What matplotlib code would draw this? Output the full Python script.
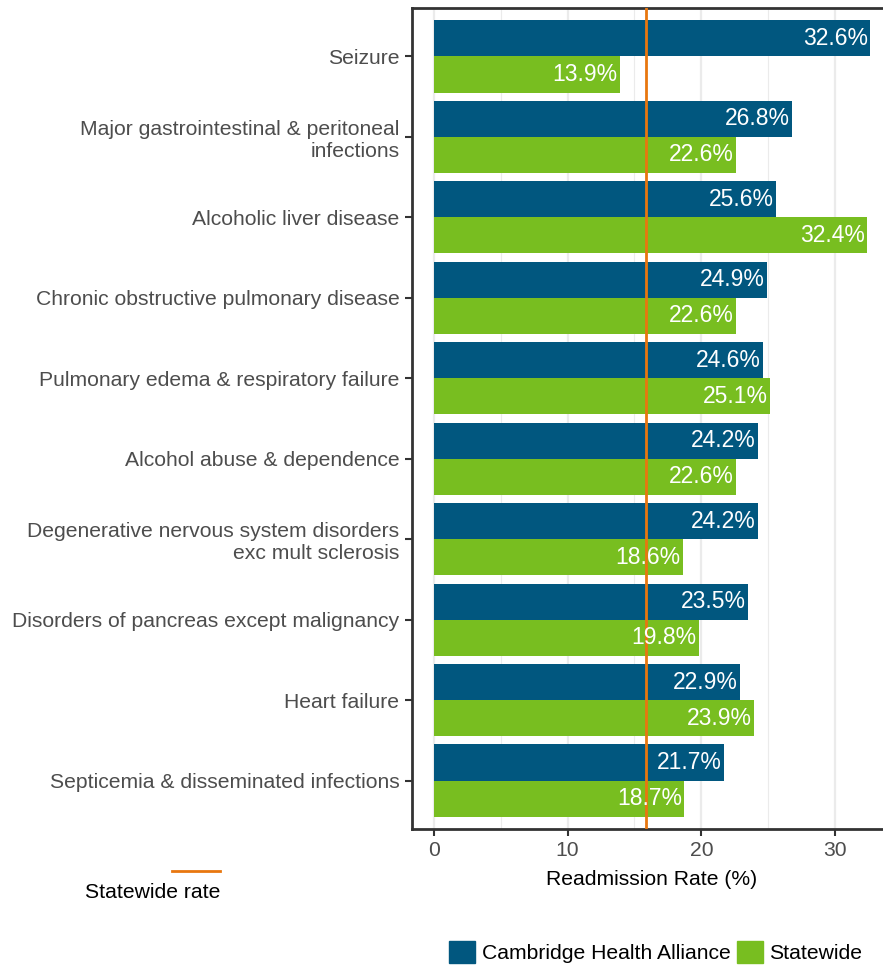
import numpy as np
import matplotlib.pyplot as plt
from matplotlib.patches import Patch
from matplotlib.lines import Line2D

plt.rcParams['font.family'] = ['Liberation Sans', 'DejaVu Sans']

# dados
diagnosticos = [
    'Seizure',
    'Major gastrointestinal & peritoneal\ninfections',
    'Alcoholic liver disease',
    'Chronic obstructive pulmonary disease',
    'Pulmonary edema & respiratory failure',
    'Alcohol abuse & dependence',
    'Degenerative nervous system disorders\nexc mult sclerosis',
    'Disorders of pancreas except malignancy',
    'Heart failure',
    'Septicemia & disseminated infections',
]
cha = [32.6, 26.8, 25.6, 24.9, 24.6, 24.2, 24.2, 23.5, 22.9, 21.7]
estado = [13.9, 22.6, 32.4, 22.6, 25.1, 22.6, 18.6, 19.8, 23.9, 18.7]
taxa_estadual = 15.9

cor_cha = '#01577F'
cor_estado = '#78BE20'
cor_linha = '#E8770F'
cinza = '#4D4D4D'
fs = 15.2

fig = plt.figure(figsize=(8.83, 9.65), dpi=100)
ax = fig.add_axes([412/883, 1 - 829/965, (891.7 - 412)/883, (829 - 8)/965])

n = len(diagnosticos)
y = np.arange(n)[::-1] + 1.0
h = 0.45

b1 = ax.barh(y + h/2, cha, height=h, color=cor_cha, zorder=2)
b2 = ax.barh(y - h/2, estado, height=h, color=cor_estado, zorder=2)

for barras, vals in [(b1, cha), (b2, estado)]:
    for b, v in zip(barras, vals):
        ax.text(v - 0.15, b.get_y() + b.get_height()/2, f'{v}%', ha='right', va='center',
                color='white', fontsize=16.5, zorder=4)

ax.axvline(taxa_estadual, color=cor_linha, lw=2, zorder=3)

ax.set_xlim(-1.63, 34.23)
ax.set_ylim(0.4, n + 0.6)
ax.set_xticks([0, 10, 20, 30])
ax.set_xticks([5, 15, 25], minor=True)
ax.set_yticks(y)
ax.set_yticklabels(diagnosticos, linespacing=1.2)
ax.grid(axis='x', which='major', color='#EBEBEB', lw=1.6, zorder=0)
ax.grid(axis='x', which='minor', color='#EBEBEB', lw=0.8, zorder=0)
ax.tick_params(axis='both', which='major', length=5, width=1.5, color='#333333',
               labelcolor=cinza, labelsize=fs, pad=4)
ax.tick_params(axis='x', which='minor', length=0)
for s in ax.spines.values():
    s.set_color('#333333')
    s.set_linewidth(2)

ax.set_xlabel('Readmission Rate (%)', fontsize=fs, color='black', labelpad=7)

# legenda da linha
fig.add_artist(Line2D([172/883, 220/883], [1 - 871/965, 1 - 871/965], color=cor_linha, lw=2))
fig.text(220/883, 1 - 892/965, 'Statewide rate', ha='right', va='center', fontsize=fs)

# legenda das barras
handles = [Patch(color=cor_cha, label='Cambridge Health Alliance'),
           Patch(color=cor_estado, label='Statewide')]
fig.legend(handles=handles, loc='center left', bbox_to_anchor=(449/883, 1 - 952/965), ncol=2,
           frameon=False, fontsize=fs, handlelength=1.25, handleheight=1.25,
           handletextpad=0.3, columnspacing=0.3, borderpad=0, borderaxespad=0)

plt.savefig('out.png', dpi=100)
